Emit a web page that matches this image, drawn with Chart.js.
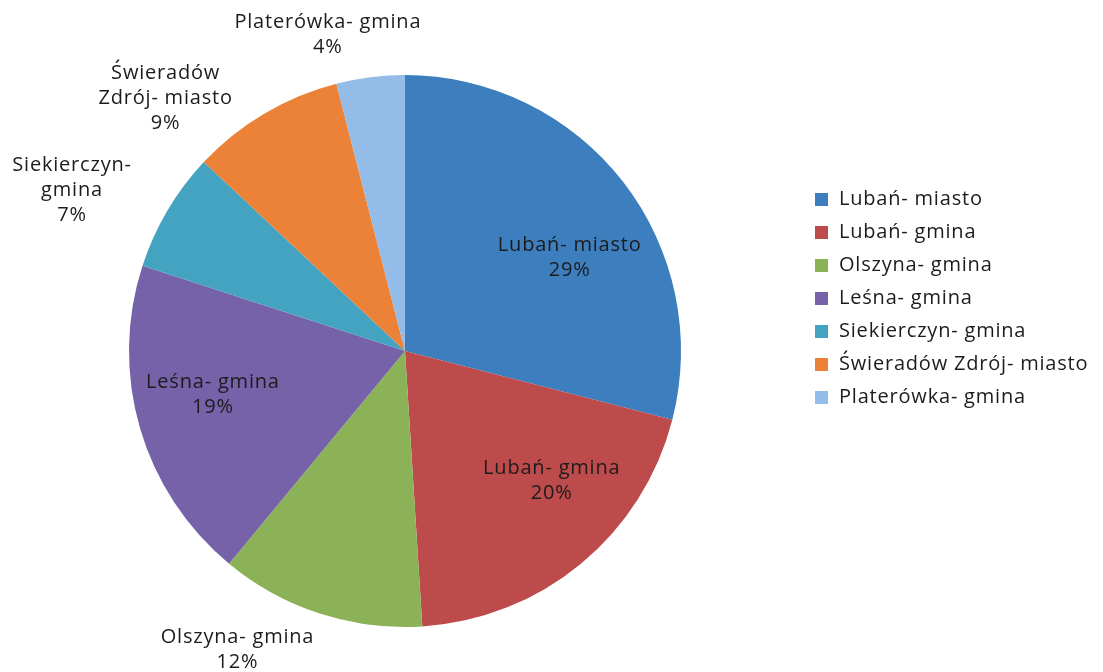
<!DOCTYPE html>
<html>
<head>
<meta charset="utf-8">
<script src="https://cdn.jsdelivr.net/npm/chart.js@4.4.1/dist/chart.umd.min.js"></script>
<style>
html,body{margin:0;padding:0;background:#fff;}
#wrap{width:1103px;height:672px;position:relative;}
</style>
</head>
<body>
<div id="wrap"><canvas id="c" width="1103" height="672"></canvas></div>
<script>
const categories = ['Lubań- miasto','Lubań- gmina','Olszyna- gmina','Leśna- gmina','Siekierczyn- gmina','Świeradów Zdrój- miasto','Platerówka- gmina'];
const values = [29, 20, 12, 19, 7, 9, 4];
const pieLabelLines = [
  ['Lubań- miasto','29%'],
  ['Lubań- gmina','20%'],
  ['Olszyna- gmina','12%'],
  ['Leśna- gmina','19%'],
  ['Siekierczyn-','gmina','7%'],
  ['Świeradów','Zdrój- miasto','9%'],
  ['Platerówka- gmina','4%']
];
const colors = ['#3d7ebf','#bd4b4c','#8bb257','#7562a8','#44a3c1','#ec8138','#93bce8'];
// label placement (radius fraction, angle in degrees, clockwise from 3 o'clock)
const labelPlace = [[0.685,-29.4],[0.71,41.5],[1.24,119.3],[0.714,167.1],[1.34,205.8],[1.26,226.5],[1.18,256.3]];

const FONT = '"Open Sans", sans-serif';
const FS = 20;
const LH = 25;

const pieLabels = {
  id:'pieLabels',
  afterDatasetsDraw(chart){
    const ctx = chart.ctx;
    const meta = chart.getDatasetMeta(0);
    ctx.save();
    ctx.font = FS + 'px ' + FONT;
    ctx.letterSpacing = '0.8px';
    ctx.fillStyle = '#1c1c1c';
    ctx.textAlign = 'center';
    ctx.textBaseline = 'middle';
    meta.data.forEach((arc,i)=>{
      const p = labelPlace[i];
      const a = p[1]*Math.PI/180;
      const cx = arc.x + Math.cos(a)*arc.outerRadius*p[0];
      const cy = arc.y + Math.sin(a)*arc.outerRadius*p[0];
      const lines = pieLabelLines[i];
      const y0 = cy - (lines.length-1)*LH/2;
      lines.forEach((t,j)=>ctx.fillText(t, cx, y0 + j*LH));
    });
    ctx.restore();
  }
};

const sideLegend = {
  id:'sideLegend',
  afterDraw(chart){
    const ctx = chart.ctx;
    ctx.save();
    ctx.font = FS + 'px ' + FONT;
    ctx.letterSpacing = '0.8px';
    ctx.textBaseline = 'middle';
    ctx.textAlign = 'left';
    const x0 = 815, y0 = 199, step = 33;
    chart.data.labels.forEach((l,i)=>{
      const y = y0 + i*step;
      ctx.fillStyle = chart.data.datasets[0].backgroundColor[i];
      ctx.fillRect(x0, y-6, 13, 13);
      ctx.fillStyle = '#1c1c1c';
      ctx.fillText(l, x0 + 24, y);
    });
    ctx.restore();
  }
};

new Chart(document.getElementById('c'), {
  type:'pie',
  data:{labels:categories, datasets:[{data:values, backgroundColor:colors, borderWidth:0}]},
  options:{
    responsive:false,
    animation:false,
    layout:{padding:{left:129,right:422,top:75,bottom:45}},
    plugins:{legend:{display:false}, tooltip:{enabled:false}}
  },
  plugins:[pieLabels, sideLegend]
});
</script>
</body>
</html>
